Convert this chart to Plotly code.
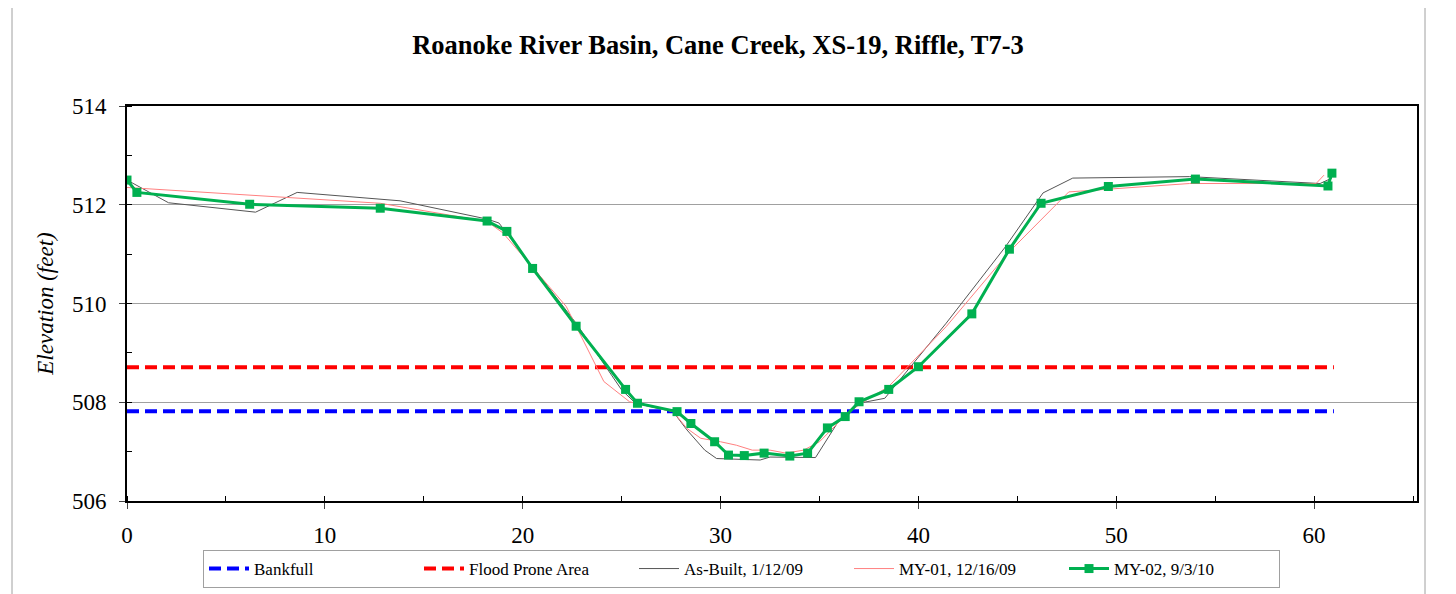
import plotly.graph_objects as go

# station (ft) / elevation (ft) read from the surveyed cross-section
asbuilt_x = [0.0, 2.1, 6.5, 8.6, 13.8, 18.2, 18.8, 22.7, 25.0, 25.7, 27.6, 28.3, 29.2, 29.8,
             32.0, 32.5, 34.8, 36.0, 37.0, 38.3, 41.4, 44.4, 46.3, 47.8, 53.7, 60.3, 60.9]
asbuilt_y = [512.50, 512.04, 511.85, 512.25, 512.08, 511.71, 511.63, 509.60, 508.25, 507.98,
             507.81, 507.44, 507.03, 506.86, 506.83, 506.89, 506.88, 507.64, 507.98, 508.08,
             509.60, 511.15, 512.24, 512.54, 512.57, 512.43, 512.54]

my01_x = [0.0, 12.8, 18.2, 19.0, 22.2, 22.8, 24.1, 25.4, 27.6, 28.3, 29.0, 30.0, 30.8, 31.6,
          32.5, 33.3, 34.2, 35.0, 35.7, 36.5, 37.4, 38.5, 41.4, 44.6, 47.6, 53.7, 60.1, 60.5]
my01_y = [512.35, 512.03, 511.66, 511.43, 509.94, 509.46, 508.42, 508.01, 507.81, 507.47,
          507.27, 507.20, 507.13, 507.03, 507.03, 506.97, 507.03, 507.20, 507.48, 507.81,
          508.05, 508.32, 509.53, 511.05, 512.26, 512.43, 512.43, 512.60]

my02_x = [0.0, 0.5, 6.2, 12.8, 18.2, 19.2, 20.5, 22.7, 25.2, 25.8, 27.8, 28.5, 29.7, 30.4, 31.2,
          32.2, 33.5, 34.4, 35.4, 36.3, 37.0, 38.5, 40.0, 42.7, 44.6, 46.2, 49.6, 54.0, 60.7, 60.9]
my02_y = [512.50, 512.25, 512.01, 511.93, 511.67, 511.46, 510.71, 509.54, 508.26, 507.98,
          507.81, 507.57, 507.20, 506.93, 506.92, 506.97, 506.91, 506.97, 507.48, 507.71,
          508.01, 508.26, 508.72, 509.79, 511.10, 512.03, 512.37, 512.52, 512.38, 512.64]

bankfull = 507.82
flood_prone = 508.71
level_x = [0, 61]

serif = "Liberation Serif, Times New Roman, serif"

fig = go.Figure()

fig.add_trace(go.Scatter(x=level_x, y=[bankfull, bankfull], name="Bankfull", mode="lines",
                         line=dict(color="#0000FF", width=4, dash="12px,6px")))
fig.add_trace(go.Scatter(x=level_x, y=[flood_prone, flood_prone], name="Flood Prone Area", mode="lines",
                         line=dict(color="#FF0000", width=4, dash="12px,6px")))
fig.add_trace(go.Scatter(x=asbuilt_x, y=asbuilt_y, name="As-Built, 1/12/09", mode="lines",
                         line=dict(color="#555555", width=1)))
fig.add_trace(go.Scatter(x=my01_x, y=my01_y, name="MY-01, 12/16/09", mode="lines",
                         line=dict(color="#FF8080", width=1)))
fig.add_trace(go.Scatter(x=my02_x, y=my02_y, name="MY-02, 9/3/10", mode="lines+markers",
                         line=dict(color="#00B050", width=3),
                         marker=dict(symbol="square", size=9, color="#00B050")))

# page has an 8px body margin, so margins are 8px smaller than the target positions
fig.update_layout(
    width=1456, height=594,
    margin=dict(l=119, r=47, t=98, b=101, autoexpand=False),
    paper_bgcolor="white", plot_bgcolor="white",
    font=dict(family=serif, color="black"),
    title=dict(text="<b>Roanoke River Basin, Cane Creek, XS-19, Riffle, T7-3</b>",
               font=dict(size=26.5, family=serif), x=710 / 1456, xanchor="center",
               y=1 - 37 / 594, yanchor="middle"),
    xaxis=dict(range=[0, 65.2], tick0=0, dtick=10, ticks="outside", ticklen=6,
               tickfont=dict(size=23), ticklabelstandoff=6, showgrid=False, zeroline=False,
               showline=True, linecolor="black", linewidth=2, mirror=True,
               minor=dict(dtick=5, ticks="inside", ticklen=5, tickcolor="black")),
    yaxis=dict(range=[506, 514], tick0=506, dtick=2, ticks="outside", ticklen=6,
               tickfont=dict(size=23), ticklabelstandoff=8, showgrid=True,
               gridcolor="#A0A0A0", gridwidth=1,
               zeroline=False, showline=True, linecolor="black", linewidth=2, mirror=True,
               minor=dict(dtick=1, ticks="inside", ticklen=5, tickcolor="black"),
               title=dict(text="<i>Elevation (feet)</i>", font=dict(size=23), standoff=12)),
    legend=dict(orientation="h", x=(203 - 127) / 1290, y=(501 - 550) / 395,
                xanchor="left", yanchor="top", font=dict(size=17, family=serif),
                bordercolor="#A0A0A0", borderwidth=1, entrywidth=160, itemwidth=40),
    shapes=[dict(type="rect", xref="paper", yref="paper",
                 x0=-115 / 1290, x1=(1425 - 127) / 1290, y0=-0.3, y1=(501 - 6) / 395,
                 line=dict(color="#A0A0A0", width=1), layer="below")],
)

fig.write_html("out.html")
